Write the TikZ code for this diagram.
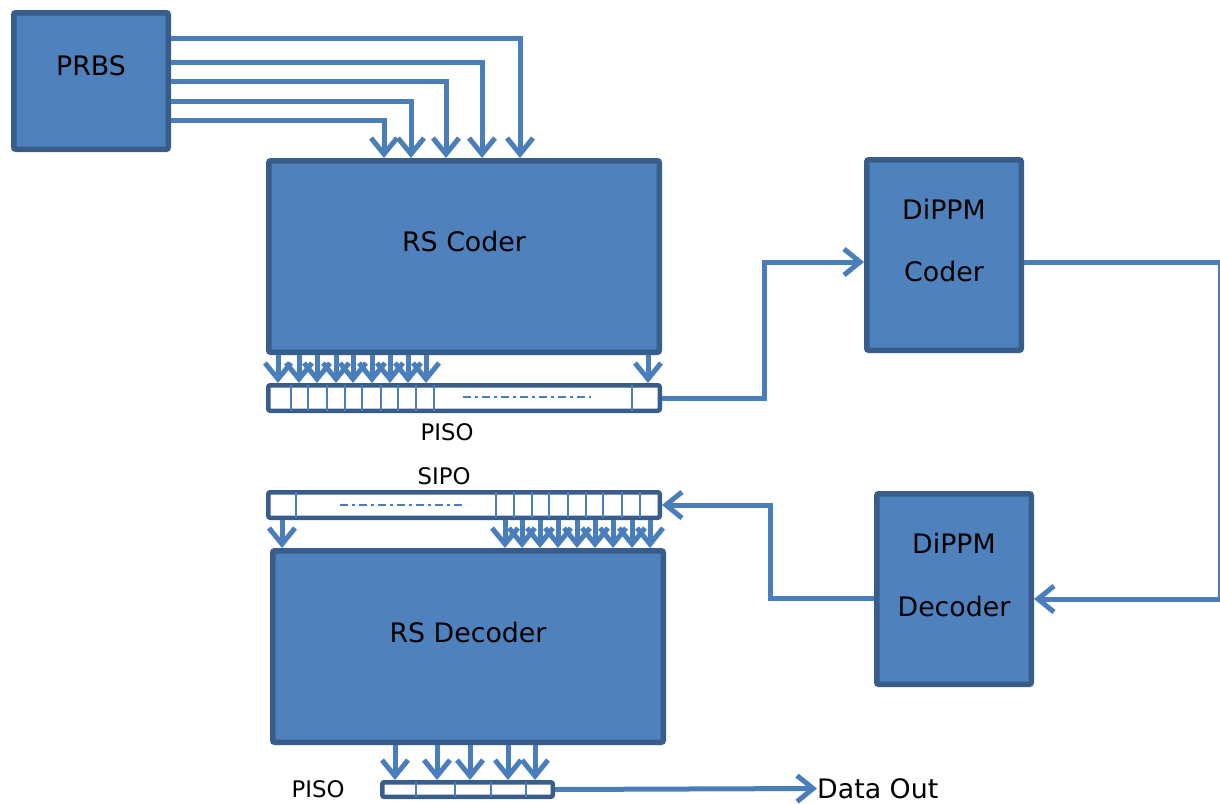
\documentclass[tikz,border=0pt]{standalone}
\usepackage{fontspec}
\setmainfont{DejaVu Sans}
\usetikzlibrary{arrows.meta}
\definecolor{boxfill}{HTML}{4F81BD}
\definecolor{boxedge}{HTML}{385D8A}
\definecolor{wirec}{HTML}{4A7EBB}
\begin{document}
\begin{tikzpicture}[x=1pt,y=-1pt,
  blk/.style={draw=boxedge, fill=boxfill, line width=5.5pt, rounded corners=2pt, inner sep=0pt},
  reg/.style={draw=boxedge, fill=white, line width=4.5pt, rounded corners=2pt, inner sep=0pt},
  wire/.style={draw=wirec, line width=5pt},
  arr/.style={wire, -{Straight Barb[length=16pt,width=26pt]}},
  cell/.style={draw=wirec, line width=1.8pt},
  dashdot/.style={draw=wirec, line width=2.2pt, dash pattern=on 8pt off 4pt on 3pt off 4pt},
  big/.style={font=\fontsize{26.8}{31}\selectfont, inner sep=0pt},
  small/.style={font=\fontsize{22.8}{27}\selectfont, inner sep=0pt}]
\useasboundingbox (0,0) rectangle (1220,803);

% blocks
\node[blk, minimum width=154.5pt, minimum height=136.5pt] (prbs) at (91,81) {};
\node[blk, minimum width=390.5pt, minimum height=191.5pt] (rsc) at (464,256.5) {};
\node[reg, minimum width=391.5pt, minimum height=25.5pt] (piso1) at (464,398) {};
\node[reg, minimum width=391.5pt, minimum height=25.5pt] (sipo) at (464,505) {};
\node[blk, minimum width=390.5pt, minimum height=191.5pt] (rsd) at (468,646.5) {};
\node[reg, minimum width=170.5pt, minimum height=14.5pt] (piso2) at (467.5,789.5) {};
\node[blk, minimum width=154.5pt, minimum height=190.5pt] (dc) at (944,255) {};
\node[blk, minimum width=154.5pt, minimum height=190.5pt] (ddec) at (954,589) {};

% texts
\node[big] (prbst) at (91,66) {PRBS};
\node[big] (rsct) at (464,242) {RS Coder};
\node[big] (rsdt) at (468,632) {RS Decoder};
\node[big] (dct1) at (944,209) {DiPPM};
\node[big] (dct2) at (944,272) {Coder};
\node[big] (ddt1) at (954,543) {DiPPM};
\node[big] (ddt2) at (954,606) {Decoder};
\node[small] (piso1t) at (447,432) {PISO};
\node[small] (sipot) at (444,476) {SIPO};
\node[small] (piso2t) at (318,789) {PISO};
\node[big, anchor=west] (out) at (817,788.5) {Data Out};

% register cells
\foreach \x in {291,308,327,345,362,381,398,416,434,632}
  \draw[cell] (\x,385) -- (\x,411);
\draw[dashdot] (463,397) -- (591,397);
\foreach \x in {296,496,514,532,549,568,586,603,622,640}
  \draw[cell] (\x,492) -- (\x,518);
\draw[dashdot] (340,505) -- (466,505);
\foreach \x in {416,455,491,526}
  \draw[cell] (\x,782) -- (\x,797);

% PRBS to RS Coder
\draw[arr] (prbs.east |- 0,38) -| (rsc.north -| 520,0);
\draw[arr] (prbs.east |- 0,62) -| (rsc.north -| 482,0);
\draw[arr] (prbs.east |- 0,81) -| (rsc.north -| 446,0);
\draw[arr] (prbs.east |- 0,101) -| (rsc.north -| 411,0);
\draw[arr] (prbs.east |- 0,120) -| (rsc.north -| 384,0);

% RS Coder to PISO
\foreach \x in {278,299,317,336,353,372,390,408,426,648}
  \draw[arr] (rsc.south -| \x,0) -- (piso1.north -| \x,0);
% SIPO to RS Decoder
\foreach \x in {282,505,522,540,558,577,595,613,632,650}
  \draw[arr] (sipo.south -| \x,0) -- (rsd.north -| \x,0);
% RS Decoder to PISO
\foreach \x in {395,437,470,508,535}
  \draw[arr] (rsd.south -| \x,0) -- (piso2.north -| \x,0);

% loop
\draw[arr] (piso1.east) -- (764,398) |- (dc.west |- 0,262);
\draw[arr] (dc.east |- 0,262) -- (1220,262) |- (ddec.east |- 0,599);
\draw[arr] (ddec.west |- 0,598) -- (770,598) |- (sipo.east);
\draw[arr] (piso2.east) -- (out.west);
\end{tikzpicture}
\end{document}
